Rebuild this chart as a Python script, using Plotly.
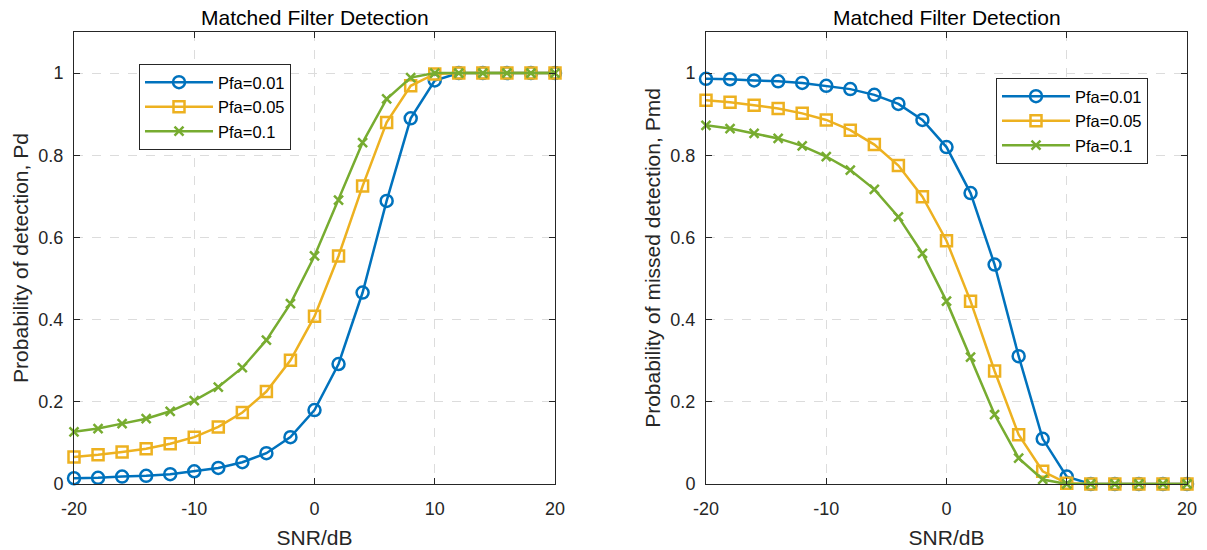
import plotly.graph_objects as go

snr_db = [-20, -18, -16, -14, -12, -10, -8, -6, -4, -2, 0, 2, 4, 6, 8, 10, 12, 14, 16, 18, 20]

pd_pfa_001 = [0.014, 0.015, 0.018, 0.020, 0.024, 0.031, 0.039, 0.053, 0.075, 0.114, 0.180,
              0.292, 0.466, 0.689, 0.890, 0.982, 1.0, 1.0, 1.0, 1.0, 1.0]
pd_pfa_005 = [0.066, 0.071, 0.078, 0.086, 0.098, 0.114, 0.139, 0.174, 0.225, 0.301, 0.408,
              0.555, 0.725, 0.880, 0.969, 0.998, 1.0, 1.0, 1.0, 1.0, 1.0]
pd_pfa_01 = [0.127, 0.135, 0.147, 0.159, 0.177, 0.203, 0.236, 0.283, 0.350, 0.439, 0.555,
             0.691, 0.831, 0.937, 0.989, 1.0, 1.0, 1.0, 1.0, 1.0, 1.0]

pmd_pfa_001 = [0.986, 0.985, 0.982, 0.980, 0.976, 0.969, 0.961, 0.947, 0.925, 0.886, 0.820,
               0.708, 0.534, 0.311, 0.110, 0.018, 0.0, 0.0, 0.0, 0.0, 0.0]
pmd_pfa_005 = [0.934, 0.929, 0.922, 0.914, 0.902, 0.886, 0.861, 0.826, 0.775, 0.699, 0.592,
               0.445, 0.275, 0.120, 0.031, 0.002, 0.0, 0.0, 0.0, 0.0, 0.0]
pmd_pfa_01 = [0.873, 0.865, 0.853, 0.841, 0.823, 0.797, 0.764, 0.717, 0.650, 0.561, 0.445,
              0.309, 0.169, 0.063, 0.011, 0.0, 0.0, 0.0, 0.0, 0.0, 0.0]

series_names = ["Pfa=0.01", "Pfa=0.05", "Pfa=0.1"]
colors = ["#0072BD", "#EDB120", "#77AC30"]
symbols = ["circle-open", "square-open", "x-thin-open"]
msizes = [12, 11, 9]

x_ticks = [-20, -10, 0, 10, 20]
x_ticklabels = ["-20", "-10", "0", "10", "20"]
y_ticks = [0, 0.2, 0.4, 0.6, 0.8, 1.0]
y_ticklabels = ["0", "0.2", "0.4", "0.6", "0.8", "1"]

title_text = "Matched Filter Detection"
x_label = "SNR/dB"
y_label_left = "Probability of detection, Pd"
y_label_right = "Probability of missed detection, Pmd"

FONT = "Liberation Sans, Arial, Helvetica, sans-serif"
AXC = "#262626"
LW = 2.5

fig = go.Figure()

left_data = [pd_pfa_001, pd_pfa_005, pd_pfa_01]
right_data = [pmd_pfa_001, pmd_pfa_005, pmd_pfa_01]

for data, xa, ya, lg in [(left_data, "x", "y", "legend"), (right_data, "x2", "y2", "legend2")]:
    for i in range(3):
        fig.add_trace(go.Scatter(
            x=snr_db, y=data[i], name=series_names[i], mode="lines+markers",
            line=dict(color=colors[i], width=LW),
            marker=dict(symbol=symbols[i], size=msizes[i], color=colors[i],
                        line=dict(color=colors[i], width=LW)),
            xaxis=xa, yaxis=ya, legend=lg, cliponaxis=False))

W, H = 1207, 550
ML, MR, MT, MB = 74, 20, 32, 66
pw = W - ML - MR
ph = H - MT - MB
L0, L1 = 0.0, 481 / pw
R0, R1 = (706 - ML) / pw, 1.0


def xaxis_cfg(domain, anchor):
    return dict(domain=domain, anchor=anchor, range=[-20, 20], tickvals=x_ticks,
                ticktext=x_ticklabels, ticks="inside", ticklen=6, tickcolor=AXC,
                showline=True, linecolor=AXC, linewidth=1, mirror="ticks", showgrid=True,
                gridcolor="#dcdcdc", griddash="dash", gridwidth=1, zeroline=False,
                ticklabelstandoff=8, automargin=False,
                tickfont=dict(family=FONT, size=18, color=AXC),
                title=dict(text=x_label, font=dict(family=FONT, size=21, color=AXC), standoff=12))


def yaxis_cfg(anchor, title):
    return dict(anchor=anchor, domain=[0, 1], range=[0, 1.1], tickvals=y_ticks,
                ticktext=y_ticklabels, ticks="inside", ticklen=6, tickcolor=AXC,
                showline=True, linecolor=AXC, linewidth=1, mirror="ticks",
                showgrid=True, gridcolor="#dcdcdc", griddash="dash", gridwidth=1,
                zeroline=False, ticklabelstandoff=6, automargin=False,
                tickfont=dict(family=FONT, size=18, color=AXC),
                title=dict(text=title, font=dict(family=FONT, size=21, color=AXC), standoff=4))


legend_common = dict(bgcolor="white", bordercolor=AXC, borderwidth=1,
                     font=dict(family=FONT, size=16.5, color="black"),
                     itemwidth=68, tracegroupgap=0, xanchor="left", yanchor="top")

fig.update_layout(
    width=W, height=H,
    margin=dict(l=ML, r=MR, t=MT, b=MB, autoexpand=False),
    paper_bgcolor="white", plot_bgcolor="white",
    xaxis=xaxis_cfg([L0, L1], "y"),
    yaxis=yaxis_cfg("x", y_label_left),
    xaxis2=xaxis_cfg([R0, R1], "y2"),
    yaxis2=yaxis_cfg("x2", y_label_right),
    legend=dict(x=(139 - ML) / pw, y=(484 - 64) / ph, **legend_common),
    legend2=dict(x=(996 - ML) / pw, y=(484 - 78) / ph, **legend_common),
    annotations=[
        dict(text=title_text, x=(L0 + L1) / 2, y=1.0, xref="paper", yref="paper",
             xanchor="center", yanchor="middle", yshift=15, showarrow=False,
             font=dict(family=FONT, size=21, color="black")),
        dict(text=title_text, x=(R0 + R1) / 2, y=1.0, xref="paper", yref="paper",
             xanchor="center", yanchor="middle", yshift=15, showarrow=False,
             font=dict(family=FONT, size=21, color="black")),
    ],
)

fig.write_html("out.html", config={"displayModeBar": False},
               post_script="document.body.style.margin='0';document.body.style.overflow='hidden';")
